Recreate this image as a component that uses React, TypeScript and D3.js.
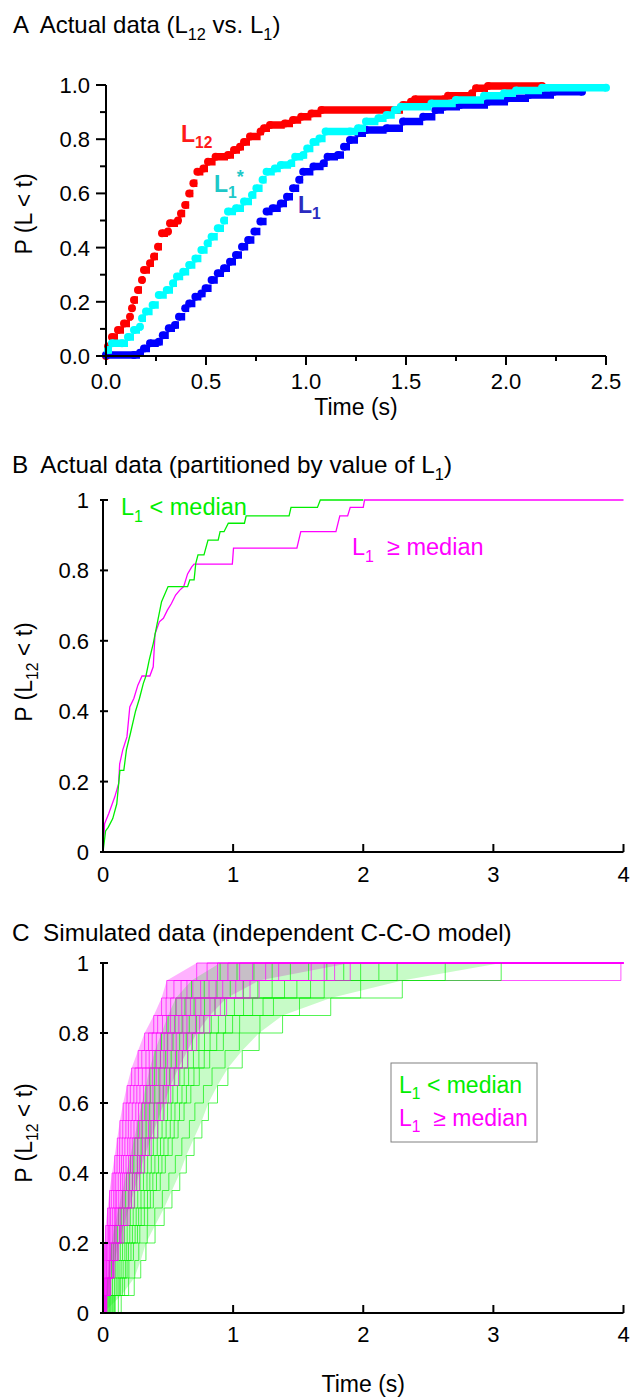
import React from "react";
import * as d3 from "d3";

const FONT = "'Liberation Sans', Arial, Helvetica, sans-serif";

// ---------- Panel A: cumulative distributions, [time (s), P(L < t)] ----------
const l12Points: [number, number][] = [
  [0, 0], [0.01, 0.035], [0.03, 0.07], [0.06, 0.096], [0.09, 0.12], [0.12, 0.145], [0.13, 0.176],
  [0.14, 0.207], [0.16, 0.244], [0.18, 0.28], [0.19, 0.317], [0.22, 0.342], [0.24, 0.367],
  [0.26, 0.403], [0.28, 0.453], [0.31, 0.459], [0.32, 0.49], [0.36, 0.5], [0.375, 0.526],
  [0.396, 0.557], [0.416, 0.6], [0.437, 0.637], [0.457, 0.68], [0.487, 0.692], [0.51, 0.717],
  [0.548, 0.735], [0.61, 0.742], [0.64, 0.76], [0.67, 0.772], [0.69, 0.79], [0.72, 0.81],
  [0.773, 0.828], [0.79, 0.84], [0.82, 0.852], [0.894, 0.858], [0.935, 0.871], [0.976, 0.883],
  [1.027, 0.895], [1.077, 0.908], [1.464, 0.908], [1.485, 0.926], [1.525, 0.938], [1.545, 0.947],
  [1.69, 0.947], [1.71, 0.96], [1.83, 0.97], [1.85, 0.988], [1.91, 0.996], [2.18, 0.996],
];
const l1StarPoints: [number, number][] = [
  [0.01, 0.022], [0.03, 0.047], [0.08, 0.047], [0.11, 0.07], [0.14, 0.096], [0.17, 0.108],
  [0.18, 0.139], [0.2, 0.164], [0.233, 0.188], [0.264, 0.225], [0.304, 0.244], [0.335, 0.268],
  [0.355, 0.293], [0.386, 0.311], [0.416, 0.336], [0.447, 0.36], [0.477, 0.391], [0.508, 0.416],
  [0.528, 0.44], [0.559, 0.471], [0.59, 0.5], [0.61, 0.533], [0.65, 0.545], [0.69, 0.57],
  [0.73, 0.594], [0.752, 0.619], [0.783, 0.65], [0.803, 0.68], [0.844, 0.692], [0.874, 0.705],
  [0.925, 0.711], [0.946, 0.735], [0.986, 0.742], [1.006, 0.766], [1.037, 0.79], [1.067, 0.803],
  [1.098, 0.828], [1.22, 0.828], [1.26, 0.84], [1.3, 0.865], [1.362, 0.877], [1.403, 0.889],
  [1.444, 0.908], [1.474, 0.92], [1.627, 0.932], [1.749, 0.945], [1.89, 0.96], [1.99, 0.97],
  [2.05, 0.98], [2.18, 0.99], [2.5, 0.99],
];
const l1Points: [number, number][] = [
  [0, 0.004], [0.14, 0.004], [0.17, 0.012], [0.19, 0.028], [0.22, 0.047], [0.264, 0.053],
  [0.284, 0.077], [0.314, 0.102], [0.345, 0.114], [0.365, 0.145], [0.396, 0.176], [0.416, 0.194],
  [0.447, 0.219], [0.477, 0.231], [0.498, 0.25], [0.528, 0.28], [0.559, 0.305], [0.59, 0.324],
  [0.62, 0.348], [0.65, 0.373], [0.68, 0.403], [0.711, 0.428], [0.742, 0.459], [0.772, 0.496],
  [0.803, 0.533], [0.833, 0.545], [0.874, 0.563], [0.905, 0.588], [0.935, 0.619], [0.966, 0.65],
  [0.986, 0.68], [1.037, 0.699], [1.088, 0.711], [1.108, 0.735], [1.16, 0.742], [1.19, 0.772],
  [1.22, 0.797], [1.26, 0.822], [1.3, 0.834], [1.403, 0.84], [1.485, 0.865], [1.586, 0.883],
  [1.647, 0.908], [1.69, 0.92], [1.77, 0.926], [1.91, 0.938], [2.01, 0.951], [2.115, 0.963],
  [2.24, 0.975], [2.38, 0.975],
];
const xTicksA = [0, 0.5, 1, 1.5, 2, 2.5];
const xMinorA = [0.25, 0.75, 1.25, 1.75, 2.25];
const yTicksA = [0, 0.2, 0.4, 0.6, 0.8, 1];
const yMinorA = [0.1, 0.3, 0.5, 0.7, 0.9];

// ---------- Panel B: partitioned by L1 ----------
const belowMedian: [number, number][] = [
  [0, 0], [0.02, 0.06], [0.04, 0.07], [0.075, 0.095], [0.106, 0.137], [0.13, 0.232], [0.16, 0.232],
  [0.18, 0.29], [0.21, 0.336], [0.25, 0.4], [0.28, 0.436], [0.31, 0.479], [0.33, 0.5], [0.355, 0.545],
  [0.386, 0.592], [0.417, 0.65], [0.45, 0.711], [0.5, 0.754], [0.65, 0.754], [0.667, 0.773],
  [0.7, 0.773], [0.713, 0.82], [0.73, 0.844], [0.776, 0.844], [0.807, 0.886], [0.885, 0.886],
  [0.9, 0.91], [0.93, 0.91], [0.963, 0.934], [1.087, 0.934], [1.1, 0.955], [1.43, 0.955],
  [1.445, 0.979], [1.648, 0.979], [1.67, 1], [2.0, 1],
];
const aboveMedian: [number, number][] = [
  [0, 0], [0.012, 0.08], [0.045, 0.11], [0.09, 0.156], [0.12, 0.194], [0.128, 0.25], [0.152, 0.29],
  [0.184, 0.327], [0.206, 0.412], [0.237, 0.436], [0.268, 0.474], [0.3, 0.5], [0.36, 0.5],
  [0.386, 0.526], [0.4, 0.62], [0.433, 0.654], [0.464, 0.664], [0.495, 0.687], [0.526, 0.706],
  [0.558, 0.73], [0.59, 0.744], [0.62, 0.754], [0.65, 0.79], [0.682, 0.81], [0.7, 0.818],
  [0.994, 0.818], [1.003, 0.863], [1.49, 0.863], [1.52, 0.91], [1.79, 0.91], [1.82, 0.955],
  [1.88, 0.955], [1.9, 0.979], [2.0, 0.979], [2.01, 1], [4.0, 1],
];
const xTicksB = [0, 1, 2, 3, 4];
const yTicksB = [0, 0.2, 0.4, 0.6, 0.8, 1];

// ---------- Panel C: simulated curves, time at which each P level is reached ----------
const simLevels = [0, 0.05, 0.1, 0.15, 0.2, 0.25, 0.3, 0.35, 0.4, 0.45, 0.5, 0.55, 0.6, 0.65, 0.7, 0.75, 0.8, 0.85, 0.9, 0.95, 1];
const simAbove: number[][] = [
  [0, 0, 0.005, 0.008, 0.012, 0.02, 0.035, 0.05, 0.07, 0.09, 0.11, 0.13, 0.155, 0.185, 0.22, 0.27, 0.32, 0.39, 0.45, 0.49, 0.72],
  [0, 0.003, 0.009, 0.014, 0.02, 0.032, 0.047, 0.064, 0.084, 0.108, 0.128, 0.152, 0.178, 0.21, 0.246, 0.298, 0.35, 0.42, 0.485, 0.545, 0.8],
  [0, 0.006, 0.012, 0.022, 0.027, 0.042, 0.058, 0.082, 0.098, 0.127, 0.148, 0.176, 0.198, 0.237, 0.272, 0.33, 0.378, 0.457, 0.52, 0.6, 0.88],
  [0, 0.008, 0.017, 0.026, 0.036, 0.05, 0.072, 0.094, 0.117, 0.142, 0.168, 0.195, 0.225, 0.26, 0.302, 0.355, 0.41, 0.488, 0.562, 0.645, 0.96],
  [0, 0.009, 0.022, 0.031, 0.046, 0.06, 0.087, 0.105, 0.135, 0.157, 0.19, 0.215, 0.252, 0.284, 0.33, 0.382, 0.442, 0.518, 0.605, 0.69, 1.05],
  [0, 0.012, 0.025, 0.04, 0.052, 0.072, 0.097, 0.121, 0.149, 0.177, 0.207, 0.238, 0.273, 0.311, 0.356, 0.41, 0.47, 0.55, 0.638, 0.75, 1.15],
  [0, 0.014, 0.028, 0.047, 0.058, 0.085, 0.107, 0.138, 0.163, 0.196, 0.225, 0.262, 0.295, 0.338, 0.38, 0.442, 0.498, 0.583, 0.672, 0.815, 1.25],
  [0, 0.015, 0.034, 0.051, 0.068, 0.093, 0.121, 0.15, 0.18, 0.211, 0.246, 0.282, 0.32, 0.361, 0.409, 0.468, 0.53, 0.614, 0.712, 0.868, 1.35],
  [0, 0.017, 0.04, 0.055, 0.079, 0.102, 0.136, 0.162, 0.198, 0.226, 0.268, 0.302, 0.346, 0.384, 0.438, 0.495, 0.563, 0.645, 0.752, 0.92, 3.98],
  [0, 0.023, 0.045, 0.072, 0.091, 0.127, 0.157, 0.195, 0.226, 0.265, 0.303, 0.35, 0.389, 0.438, 0.488, 0.557, 0.618, 0.712, 0.822, 1.02, 1.6],
  [0, 0.024, 0.05, 0.076, 0.1, 0.135, 0.171, 0.207, 0.243, 0.28, 0.324, 0.37, 0.415, 0.461, 0.517, 0.583, 0.65, 0.743, 0.862, 1.075, 1.7],
  [0, 0.026, 0.056, 0.08, 0.11, 0.144, 0.186, 0.219, 0.261, 0.295, 0.346, 0.389, 0.441, 0.485, 0.546, 0.61, 0.682, 0.775, 0.902, 1.13, 1.78],
  [0, 0.03, 0.06, 0.09, 0.12, 0.16, 0.2, 0.24, 0.28, 0.32, 0.37, 0.42, 0.47, 0.52, 0.58, 0.65, 0.72, 0.82, 0.95, 1.2, 1.9],
];
const simBelow: number[][] = [
  [0, 0.02, 0.035, 0.05, 0.065, 0.09, 0.12, 0.15, 0.18, 0.21, 0.24, 0.27, 0.3, 0.33, 0.36, 0.4, 0.45, 0.5, 0.56, 0.68, 0.9],
  [0, 0.027, 0.046, 0.066, 0.08, 0.11, 0.14, 0.174, 0.203, 0.237, 0.266, 0.3, 0.33, 0.364, 0.395, 0.441, 0.494, 0.554, 0.63, 0.778, 1.03],
  [0, 0.034, 0.058, 0.081, 0.095, 0.129, 0.16, 0.198, 0.227, 0.264, 0.293, 0.331, 0.359, 0.398, 0.43, 0.482, 0.538, 0.608, 0.7, 0.876, 1.16],
  [0, 0.042, 0.073, 0.094, 0.114, 0.147, 0.185, 0.22, 0.256, 0.29, 0.325, 0.361, 0.394, 0.432, 0.471, 0.524, 0.589, 0.663, 0.78, 0.978, 1.3],
  [0, 0.05, 0.088, 0.108, 0.133, 0.166, 0.21, 0.243, 0.285, 0.316, 0.357, 0.391, 0.43, 0.466, 0.512, 0.566, 0.64, 0.718, 0.86, 1.08, 1.44],
  [0, 0.057, 0.101, 0.123, 0.15, 0.186, 0.232, 0.267, 0.311, 0.343, 0.387, 0.422, 0.463, 0.501, 0.551, 0.61, 0.688, 0.775, 0.935, 1.19, 1.58],
  [0, 0.064, 0.115, 0.139, 0.168, 0.206, 0.255, 0.292, 0.338, 0.371, 0.417, 0.454, 0.496, 0.537, 0.59, 0.653, 0.737, 0.832, 1.01, 1.3, 1.72],
  [0, 0.073, 0.125, 0.155, 0.182, 0.226, 0.274, 0.317, 0.36, 0.399, 0.442, 0.485, 0.524, 0.572, 0.624, 0.695, 0.78, 0.887, 1.08, 1.395, 1.85],
  [0, 0.082, 0.136, 0.172, 0.196, 0.247, 0.293, 0.342, 0.383, 0.427, 0.468, 0.517, 0.553, 0.607, 0.658, 0.737, 0.823, 0.942, 1.15, 1.49, 1.98],
  [0, 0.088, 0.151, 0.185, 0.215, 0.265, 0.318, 0.364, 0.411, 0.453, 0.5, 0.547, 0.588, 0.641, 0.699, 0.778, 0.874, 0.996, 1.23, 1.595, 2.12],
  [0, 0.094, 0.166, 0.199, 0.234, 0.283, 0.343, 0.387, 0.44, 0.479, 0.532, 0.577, 0.623, 0.675, 0.74, 0.82, 0.925, 1.05, 1.31, 1.7, 2.26],
  [0, 0.118, 0.197, 0.244, 0.275, 0.34, 0.398, 0.456, 0.506, 0.556, 0.606, 0.664, 0.706, 0.772, 0.838, 0.938, 1.048, 1.206, 1.51, 1.98, 2.63],
  [0, 0.14, 0.24, 0.29, 0.33, 0.4, 0.47, 0.53, 0.59, 0.64, 0.7, 0.76, 0.81, 0.88, 0.96, 1.07, 1.2, 1.38, 1.75, 2.3, 3.06],
];

const GREEN = "#00ee00";
const MAGENTA = "#ff00ff";

// scales
const xA = d3.scaleLinear().domain([0, 2.5]).range([106, 606]);
const yA = d3.scaleLinear().domain([0, 1]).range([356, 85]);
const xB = d3.scaleLinear().domain([0, 4]).range([103, 623.5]);
const yB = d3.scaleLinear().domain([0, 1]).range([852, 500]);
const xC = d3.scaleLinear().domain([0, 4]).range([103, 623.5]);
const yC = d3.scaleLinear().domain([0, 1]).range([1313, 963]);

const fmtA = d3.format(".1f");
const fmtB = d3.format("~g");

// thick dotted CDF: dots + horizontal runs
const DotCurve = ({ pts, color }: { pts: [number, number][]; color: string }) => {
  const runs = pts
    .slice(0, -1)
    .map((p, i) => `M${xA(p[0])},${yA(p[1])}H${xA(pts[i + 1][0])}`)
    .join("");
  return (
    <g>
      <path d={runs} stroke={color} strokeWidth={7.5} fill="none" />
      {pts.map((p, i) => (
        <circle key={i} cx={xA(p[0])} cy={yA(p[1])} r={4} fill={color} />
      ))}
    </g>
  );
};

// "L" with a subscript, then optional trailing text back on the baseline
const SubL = ({ sub, size, after }: { sub: string; size: number; after?: string }) => (
  <>
    <tspan>L</tspan>
    <tspan fontSize={size * 0.68} dy={size * 0.28}>{sub}</tspan>
    {after ? <tspan dy={-size * 0.28} style={{ whiteSpace: "pre" }}>{after}</tspan> : null}
  </>
);

const App = () => {
  const lineB = d3
    .line<[number, number]>()
    .x((d) => xB(d[0]))
    .y((d) => yB(d[1]));

  const stepC = d3
    .line<[number, number]>()
    .curve(d3.curveStepAfter)
    .x((d) => xC(Math.min(d[0], 4)))
    .y((d) => yC(d[1]));

  const band = (lo: number[], hi: number[]) =>
    d3
      .area<number>()
      .y((_, i) => yC(simLevels[i]))
      .x0((_, i) => xC(lo[i]))
      .x1((_, i) => xC(Math.min(hi[i], 4)))(simLevels) || "";

  const curvePts = (ts: number[], extend: boolean): [number, number][] => {
    const pts: [number, number][] = ts.map((t, i) => [t, simLevels[i]]);
    if (extend) pts.push([4, 1]);
    return pts;
  };

  // interleave the two groups so neither sits entirely on top
  const simOrder: { ts: number[]; color: string; extend: boolean }[] = [];
  simAbove.forEach((ts, i) => {
    simOrder.push({ ts: simBelow[i], color: GREEN, extend: false });
    simOrder.push({ ts, color: MAGENTA, extend: true });
  });

  const tickText = { fontFamily: FONT, fontSize: 22, fill: "#000" } as const;
  const nA = simAbove.length - 1;
  const nB = simBelow.length - 1;

  return (
    <svg
      width={635}
      height={1399}
      style={{ position: "absolute", left: 0, top: 0, background: "#fff" }}
      fontFamily={FONT}
    >
      <rect width={635} height={1399} fill="#fff" />

      {/* ===== Panel A ===== */}
      <text x={13} y={33} fontSize={24} style={{ whiteSpace: "pre" }}>
        <tspan>{"A  Actual data ("}</tspan>
        <SubL sub="12" size={24} after=" vs. " />
        <SubL sub="1" size={24} after=")" />
      </text>

      <DotCurve pts={l12Points} color="#ff0000" />
      <DotCurve pts={l1Points} color="#0000ff" />
      <DotCurve pts={l1StarPoints} color="#00ffff" />

      <g stroke="#000" strokeWidth={2}>
        <line x1={xA(0)} x2={xA(2.5)} y1={yA(0)} y2={yA(0)} />
        <line x1={xA(0)} x2={xA(0)} y1={yA(0) + 1} y2={yA(1)} />
        {xTicksA.map((t) => (
          <line key={t} x1={xA(t)} x2={xA(t)} y1={yA(0)} y2={yA(0) + 9} />
        ))}
        {xMinorA.map((t) => (
          <line key={t} x1={xA(t)} x2={xA(t)} y1={yA(0)} y2={yA(0) + 5} />
        ))}
        {yTicksA.map((t) => (
          <line key={t} x1={xA(0) - 10} x2={xA(0)} y1={yA(t)} y2={yA(t)} />
        ))}
        {yMinorA.map((t) => (
          <line key={t} x1={xA(0) - 6} x2={xA(0)} y1={yA(t)} y2={yA(t)} />
        ))}
      </g>
      {xTicksA.map((t) => (
        <text key={t} x={xA(t)} y={389} textAnchor="middle" {...tickText}>
          {fmtA(t)}
        </text>
      ))}
      {yTicksA.map((t) => (
        <text key={t} x={90} y={yA(t) + 8} textAnchor="end" {...tickText}>
          {fmtA(t)}
        </text>
      ))}
      <text x={xA(1.25)} y={415} textAnchor="middle" fontSize={23}>
        Time (s)
      </text>
      <text transform="translate(32,214) rotate(-90)" textAnchor="middle" fontSize={23}>
        P (L &lt; t)
      </text>

      <text x={181} y={142} fontSize={23} fontWeight="bold" fill="#ff1a1a">
        <SubL sub="12" size={23} />
      </text>
      <text x={214} y={192} fontSize={23} fontWeight="bold" fill="#1ec8c8">
        <SubL sub="1" size={23} />
        <tspan dy={-15} fontSize={18}>*</tspan>
      </text>
      <text x={298} y={213} fontSize={23} fontWeight="bold" fill="#2b2bc0">
        <SubL sub="1" size={23} />
      </text>

      {/* ===== Panel B ===== */}
      <text x={12} y={473} fontSize={24.3} style={{ whiteSpace: "pre" }}>
        <tspan>{"B  Actual data (partitioned by value of "}</tspan>
        <SubL sub="1" size={24.3} after=")" />
      </text>
      <path d={lineB(aboveMedian) || ""} stroke={MAGENTA} strokeWidth={1.3} fill="none" />
      <path d={lineB(belowMedian) || ""} stroke={GREEN} strokeWidth={1.3} fill="none" />
      <g stroke="#000" strokeWidth={2}>
        <line x1={xB(0)} x2={xB(4)} y1={yB(0)} y2={yB(0)} />
        <line x1={xB(0)} x2={xB(0)} y1={yB(0)} y2={yB(1)} />
        {xTicksB.map((t) => (
          <line key={t} x1={xB(t)} x2={xB(t)} y1={yB(0)} y2={yB(0) - 8} />
        ))}
        {yTicksB.map((t) => (
          <line key={t} x1={xB(0) - 3} x2={xB(0) + 5} y1={yB(t)} y2={yB(t)} />
        ))}
      </g>
      {xTicksB.map((t) => (
        <text key={t} x={xB(t)} y={882} textAnchor="middle" {...tickText}>
          {fmtB(t)}
        </text>
      ))}
      {yTicksB.map((t) => (
        <text key={t} x={89} y={yB(t) + 8} textAnchor="end" {...tickText}>
          {fmtB(t)}
        </text>
      ))}
      <text transform="translate(32,672) rotate(-90)" textAnchor="middle" fontSize={23}>
        <tspan>{"P ("}</tspan>
        <SubL sub="12" size={23} after=" < t)" />
      </text>
      <text x={121} y={515} fontSize={23.5} fill={GREEN}>
        <SubL sub="1" size={23.5} after=" < median" />
      </text>
      <text x={352} y={555} fontSize={23.5} fill={MAGENTA}>
        <SubL sub="1" size={23.5} after={"  \u2265 median"} />
      </text>

      {/* ===== Panel C ===== */}
      <text x={12} y={941} fontSize={24.3} style={{ whiteSpace: "pre" }}>
        {"C  Simulated data (independent C-C-O model)"}
      </text>
      <path d={band(simAbove[0], simAbove[nA])} fill={MAGENTA} opacity={0.3} />
      <path d={band(simBelow[0], simBelow[nB])} fill={GREEN} opacity={0.22} />
      {simOrder.map((c, i) => (
        <path
          key={i}
          d={stepC(curvePts(c.ts, c.extend)) || ""}
          stroke={c.color}
          strokeWidth={0.8}
          strokeOpacity={0.85}
          fill="none"
        />
      ))}
      <g stroke="#000" strokeWidth={2}>
        <line x1={xC(0)} x2={xC(4)} y1={yC(0)} y2={yC(0)} />
        <line x1={xC(0)} x2={xC(0)} y1={yC(0)} y2={yC(1)} />
        {xTicksB.map((t) => (
          <line key={t} x1={xC(t)} x2={xC(t)} y1={yC(0)} y2={yC(0) - 8} />
        ))}
        {yTicksB.map((t) => (
          <line key={t} x1={xC(0) - 3} x2={xC(0) + 5} y1={yC(t)} y2={yC(t)} />
        ))}
      </g>
      {xTicksB.map((t) => (
        <text key={t} x={xC(t)} y={1342} textAnchor="middle" {...tickText}>
          {fmtB(t)}
        </text>
      ))}
      {yTicksB.map((t) => (
        <text key={t} x={89} y={yC(t) + 8} textAnchor="end" {...tickText}>
          {fmtB(t)}
        </text>
      ))}
      <text transform="translate(32,1133) rotate(-90)" textAnchor="middle" fontSize={23}>
        <tspan>{"P ("}</tspan>
        <SubL sub="12" size={23} after=" < t)" />
      </text>
      <text x={xC(2)} y={1392} textAnchor="middle" fontSize={23}>
        Time (s)
      </text>

      <rect x={391} y={1063} width={146} height={79} fill="#fff" stroke="#808080" strokeWidth={1} />
      <text x={399} y={1093} fontSize={23} fill={GREEN}>
        <SubL sub="1" size={23} after=" < median" />
      </text>
      <text x={399} y={1126} fontSize={23} fill={MAGENTA}>
        <SubL sub="1" size={23} after={"  \u2265 median"} />
      </text>
    </svg>
  );
};

export default App;
